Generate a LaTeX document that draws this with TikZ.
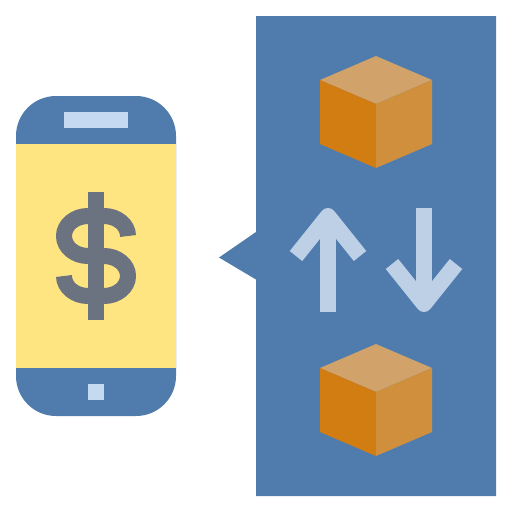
\documentclass[tikz,border=0pt]{standalone}
\definecolor{panelblue}{HTML}{507CAD}
\definecolor{screenyellow}{HTML}{FFE482}
\definecolor{lightblue}{HTML}{C5D9F1}
\definecolor{arrowblue}{HTML}{BDD0E6}
\definecolor{slategrey}{HTML}{6B7280}
\definecolor{boxtop}{HTML}{D1A36A}
\definecolor{boxleft}{HTML}{D27D12}
\definecolor{boxright}{HTML}{D08F3C}
\tikzset{
  glyphline/.style={draw=slategrey,line width=16pt},
  arrowline/.style={draw=arrowblue,line width=16pt,line join=round},
  cube/.pic={
    \fill[boxtop] (376,56)--(432,80)--(376,104)--(320,80)--cycle;
    \fill[boxleft] (320,80)--(376,104)--(376,168)--(320,144)--cycle;
    \fill[boxright] (432,80)--(376,104)--(376,168)--(432,144)--cycle;
  }
}
\begin{document}
\begin{tikzpicture}[x=1pt,y=-1pt]
\useasboundingbox[fill=white] (0,0) rectangle (512,512);
% speech panel
\fill[panelblue] (256,16)--(496,16)--(496,496)--(256,496)--(256,279.5)--(219,257.5)--(256,232)--cycle;
% cubes
\pic at (0,0) {cube};
\pic at (0,288) {cube};
% arrows
\draw[arrowline] (328,312)--(328,216);
\draw[arrowline] (296,256)--(328,216)--(360,256);
\draw[arrowline] (424,208)--(424,304);
\draw[arrowline] (392,264)--(424,304)--(456,264);
% phone
\fill[panelblue,rounded corners=40pt] (16,96) rectangle (176,416);
\fill[screenyellow] (16,144) rectangle (176,368);
\fill[lightblue] (64,112) rectangle (128,128);
\fill[lightblue] (88,384) rectangle (104,400);
% dollar sign
\fill[slategrey] (88,192) rectangle (104,320);
\draw[glyphline] (128,236) arc[start angle=0,end angle=90,x radius=24pt,y radius=20pt] -- (88,216)
  arc[start angle=90,end angle=270,x radius=24pt,y radius=20pt] -- (104,256)
  arc[start angle=90,end angle=-90,x radius=24pt,y radius=20pt] -- (88,296)
  arc[start angle=270,end angle=180,x radius=24pt,y radius=20pt];
\end{tikzpicture}
\end{document}
